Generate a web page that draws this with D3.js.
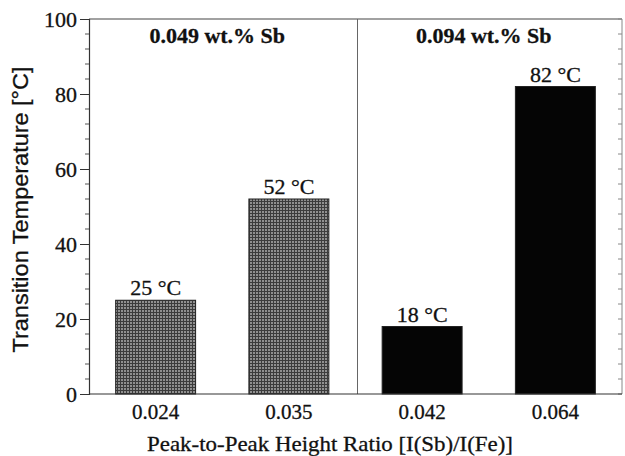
<!DOCTYPE html>
<html>
<head>
<meta charset="utf-8">
<script src="https://cdn.jsdelivr.net/npm/d3@7"></script>
<style>
  html, body { margin: 0; padding: 0; background: #fff; }
  svg { display: block; }
  .serif { font-family: "Liberation Serif", "Times New Roman", serif; }
  .sans { font-family: "Liberation Sans", Arial, sans-serif; }
  text { stroke: #111; stroke-width: 0.3; }
</style>
</head>
<body>
<svg id="chart" width="625" height="456"></svg>
<script>
// Transition temperature for each Sb peak-to-peak height ratio
const ratios = ["0.024", "0.035", "0.042", "0.064"];
const temperatures = [25, 52, 18, 82];
const groupOf = [0, 0, 1, 1];
const groupLabels = ["0.049 wt.% Sb", "0.094 wt.% Sb"];
const yTicks = [0, 20, 40, 60, 80, 100];
const yMinorTicks = d3.range(0, 101, 4);

const svg = d3.select("#chart");
const margin = { left: 89, right: 3, top: 19, bottom: 62 };
const W = 625, H = 456;

const x = d3.scaleBand()
  .domain(ratios)
  .range([margin.left, W - margin.right])
  .paddingInner(0.4)
  .paddingOuter(0.2);

const y = d3.scaleLinear()
  .domain([0, 100])
  .range([H - margin.bottom, margin.top]);

// stippled fill for the lower-Sb group
const defs = svg.append("defs");
const pat = defs.append("pattern")
  .attr("id", "stipple")
  .attr("patternUnits", "userSpaceOnUse")
  .attr("width", 3).attr("height", 3);
pat.append("rect").attr("width", 3).attr("height", 3).attr("fill", "#909090");
pat.append("rect").attr("width", 3).attr("height", 1).attr("fill", "#3c3c3c");
pat.append("rect").attr("width", 1).attr("height", 3).attr("fill", "#3c3c3c");

const x0 = margin.left, x1 = W - margin.right;
const yTop = y(100), yBot = y(0);

// bars
svg.append("g").selectAll("rect")
  .data(ratios)
  .join("rect")
  .attr("x", d => x(d))
  .attr("y", (d, i) => y(temperatures[i]))
  .attr("width", x.bandwidth())
  .attr("height", (d, i) => y(0) - y(temperatures[i]))
  .attr("fill", (d, i) => groupOf[i] === 0 ? "url(#stipple)" : "#050505")
  .attr("stroke", "#222")
  .attr("stroke-width", 1);

// value labels
svg.append("g").selectAll("text")
  .data(ratios)
  .join("text")
  .attr("class", "serif")
  .attr("x", d => x(d) + x.bandwidth() / 2)
  .attr("y", (d, i) => y(temperatures[i]) - 5)
  .attr("text-anchor", "middle")
  .attr("font-size", 22)
  .attr("fill", "#111")
  .text((d, i) => `${temperatures[i]} °C`);

// frame: top and right edges
svg.append("line")
  .attr("x1", x0).attr("x2", x1).attr("y1", yTop).attr("y2", yTop)
  .attr("stroke", "#444").attr("stroke-width", 1.2);
svg.append("line")
  .attr("x1", x1).attr("x2", x1).attr("y1", yTop).attr("y2", yBot)
  .attr("stroke", "#888").attr("stroke-width", 1);

// right-edge inward ticks
svg.append("g").selectAll("line")
  .data(yMinorTicks)
  .join("line")
  .attr("x1", x1 - 4).attr("x2", x1)
  .attr("y1", d => y(d)).attr("y2", d => y(d))
  .attr("stroke", "#888").attr("stroke-width", 1);

// divider between the two Sb groups
const divX = (x(ratios[1]) + x.bandwidth() + x(ratios[2])) / 2 + 2;
svg.append("line")
  .attr("x1", divX).attr("x2", divX).attr("y1", yTop).attr("y2", yBot)
  .attr("stroke", "#666").attr("stroke-width", 1);

// group labels
const panelCenters = [(x0 + divX) / 2, (divX + x1) / 2];
svg.append("g").selectAll("text")
  .data(groupLabels)
  .join("text")
  .attr("class", "serif")
  .attr("x", (d, i) => panelCenters[i] - 6)
  .attr("y", yTop + 24)
  .attr("text-anchor", "middle")
  .attr("font-size", 22)
  .attr("font-weight", "bold")
  .attr("fill", "#111")
  .text(d => d);

// left y axis with minor ticks
const yAxis = svg.append("g")
  .attr("transform", `translate(${x0},0)`)
  .call(d3.axisLeft(y).tickValues(yTicks).tickSize(9).tickPadding(3).tickFormat(d3.format("d")));
yAxis.select(".domain").attr("stroke", "#333").attr("stroke-width", 1.2);
yAxis.selectAll(".tick line").attr("stroke", "#333");
yAxis.selectAll(".tick text")
  .attr("class", "serif")
  .attr("font-size", 22)
  .attr("fill", "#111");
svg.append("g").selectAll("line")
  .data(yMinorTicks.filter(d => d % 20 !== 0))
  .join("line")
  .attr("x1", x0 - 4).attr("x2", x0)
  .attr("y1", d => y(d)).attr("y2", d => y(d))
  .attr("stroke", "#555").attr("stroke-width", 1);

// bottom x axis
const xAxis = svg.append("g")
  .attr("transform", `translate(0,${yBot})`)
  .call(d3.axisBottom(x).tickSize(0).tickPadding(10));
xAxis.select(".domain").attr("stroke", "#333").attr("stroke-width", 1.2)
  .attr("d", `M${x0},0H${x1}`);
xAxis.selectAll(".tick text")
  .attr("class", "serif")
  .attr("font-size", 21)
  .attr("fill", "#111");

// axis titles
svg.append("text")
  .attr("class", "sans")
  .attr("transform", `translate(28,${(yTop + yBot) / 2 + 3}) rotate(-90)`)
  .attr("text-anchor", "middle")
  .attr("font-size", 22)
  .attr("textLength", 286)
  .attr("lengthAdjust", "spacingAndGlyphs")
  .attr("fill", "#111")
  .text("Transition Temperature [°C]");

svg.append("text")
  .attr("class", "serif")
  .attr("x", 330)
  .attr("y", 451)
  .attr("text-anchor", "middle")
  .attr("font-size", 22)
  .attr("textLength", 366)
  .attr("lengthAdjust", "spacingAndGlyphs")
  .attr("fill", "#111")
  .text("Peak-to-Peak Height Ratio [I(Sb)/I(Fe)]");
</script>
</body>
</html>
